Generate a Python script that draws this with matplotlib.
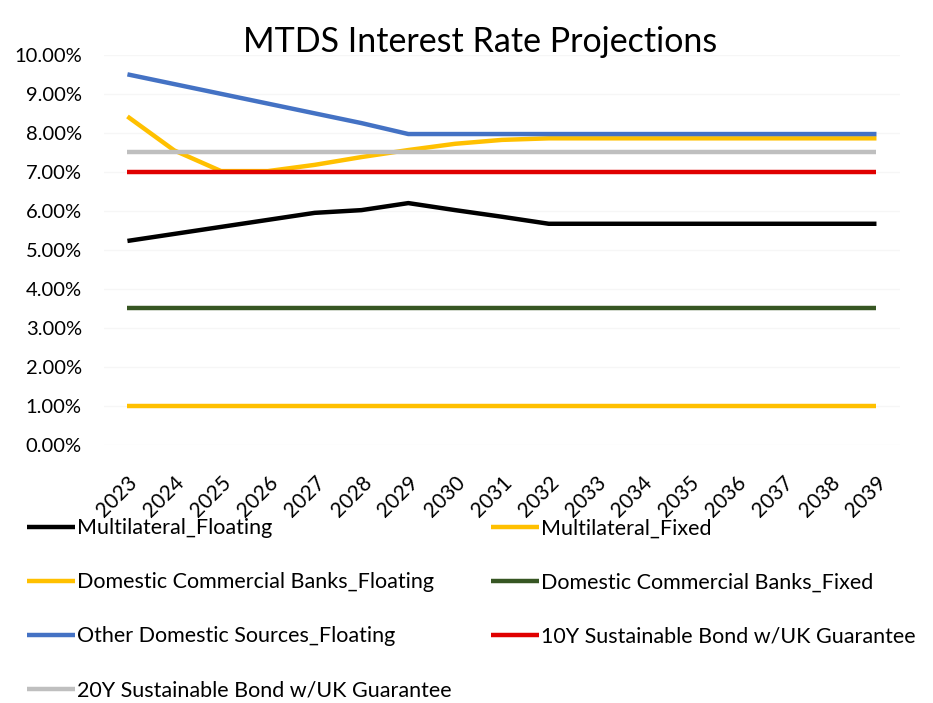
import numpy as np
import matplotlib.pyplot as plt

plt.rcParams['font.family'] = ['Lato', 'DejaVu Sans']

years = [str(y) for y in range(2023, 2040)]

# rates in percent
multilateral_floating = [5.23, 5.41, 5.59, 5.77, 5.95, 6.02, 6.20, 6.02, 5.85, 5.67,
                         5.67, 5.67, 5.67, 5.67, 5.67, 5.67, 5.67]
multilateral_fixed = [1.0] * 17
dcb_floating = [8.42, 7.55, 7.02, 7.02, 7.18, 7.38, 7.56, 7.72, 7.82, 7.86,
                7.86, 7.86, 7.86, 7.86, 7.86, 7.86, 7.86]
dcb_fixed = [3.5] * 17
other_domestic = [9.50, 9.25, 9.00, 8.75, 8.50, 8.25, 7.97, 7.97, 7.97, 7.97,
                  7.97, 7.97, 7.97, 7.97, 7.97, 7.97, 7.97]
bond_10y = [7.0] * 17
bond_20y = [7.5] * 17

series = [
    ('Multilateral_Floating', multilateral_floating, '#000000'),
    ('Multilateral_Fixed', multilateral_fixed, '#FFC000'),
    ('Domestic Commercial Banks_Floating', dcb_floating, '#FFC000'),
    ('Domestic Commercial Banks_Fixed', dcb_fixed, '#375623'),
    ('Other Domestic Sources_Floating', other_domestic, '#4472C4'),
    ('10Y Sustainable Bond w/UK Guarantee', bond_10y, '#E00000'),
    ('20Y Sustainable Bond w/UK Guarantee', bond_20y, '#BFBFBF'),
]

fig = plt.figure(figsize=(9.33, 7.03), dpi=100)
ax = fig.add_axes([0.1115, 0.367, 0.853, 0.555])

x = np.arange(len(years))
lines = {}
for name, vals, col in series:
    lines[name], = ax.plot(x, vals, color=col, lw=3.2, label=name,
                           solid_capstyle='butt')

ax.set_xlim(-0.5, len(years) - 0.5)
ax.set_ylim(0, 10)
ax.set_yticks(np.arange(0, 11, 1))
ax.set_yticklabels([f'{v:.2f}%' for v in range(11)], fontsize=14.5)
ax.set_xticks(x)
ax.set_xticklabels(years, rotation=45, fontsize=15, ha='right',
                   rotation_mode='anchor')
ax.tick_params(axis='y', length=0, pad=16)
ax.tick_params(axis='x', length=0, pad=20)
ax.grid(axis='y', color='#f6f6f6', lw=1)
ax.set_axisbelow(True)
for s in ax.spines.values():
    s.set_visible(False)

fig.text(0.515, 0.94, 'MTDS Interest Rate Projections', ha='center',
         va='center', fontsize=24.5)

order = [0, 2, 4, 6, 1, 3, 5]
handles = [lines[series[i][0]] for i in order]
fig.legend(handles, [h.get_label() for h in handles], ncol=2,
           loc='upper left', bbox_to_anchor=(0.02, 0.275), frameon=False,
           fontsize=15.5, handlelength=2.2, handletextpad=0.1,
           labelspacing=1.58, columnspacing=1.85, borderaxespad=0)

fig.savefig('out.png', dpi=100)
